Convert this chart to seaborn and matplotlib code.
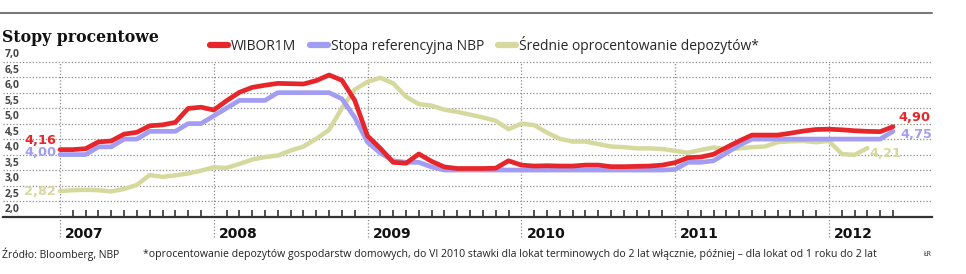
import numpy as np
import pandas as pd
import matplotlib.pyplot as plt
import seaborn as sns

# monthly data, Jan 2007 .. Jun 2012
wibor = [4.16, 4.16, 4.19, 4.41, 4.44, 4.66, 4.72, 4.93, 4.96, 5.04, 5.49, 5.53,
         5.44, 5.74, 6.01, 6.17, 6.24, 6.30, 6.29, 6.28, 6.39, 6.57, 6.40, 5.75,
         4.60, 4.20, 3.75, 3.72, 4.02, 3.78, 3.60, 3.55, 3.55, 3.55, 3.56, 3.80,
         3.66, 3.63, 3.64, 3.63, 3.63, 3.66, 3.66, 3.61, 3.61, 3.62, 3.63, 3.66,
         3.74, 3.90, 3.92, 4.01, 4.23, 4.44, 4.63, 4.63, 4.63, 4.69, 4.76, 4.81,
         4.82, 4.80, 4.77, 4.75, 4.74, 4.90]
nbp = [4.00, 4.00, 4.00, 4.25, 4.25, 4.50, 4.50, 4.75, 4.75, 4.75, 5.00, 5.00,
       5.25, 5.50, 5.75, 5.75, 5.75, 6.00, 6.00, 6.00, 6.00, 6.00, 5.80, 5.20,
       4.40, 4.05, 3.80, 3.75, 3.75, 3.60, 3.50, 3.50, 3.50, 3.50, 3.50, 3.50,
       3.50, 3.50, 3.50, 3.50, 3.50, 3.50, 3.50, 3.50, 3.50, 3.50, 3.50, 3.50,
       3.52, 3.75, 3.75, 3.80, 4.05, 4.30, 4.50, 4.50, 4.50, 4.50, 4.50, 4.50,
       4.50, 4.50, 4.50, 4.50, 4.50, 4.75]
deposits = [2.82, 2.85, 2.86, 2.85, 2.81, 2.89, 3.02, 3.34, 3.28, 3.33, 3.39, 3.48,
            3.59, 3.57, 3.70, 3.84, 3.92, 3.97, 4.13, 4.26, 4.51, 4.80, 5.50, 6.10,
            6.35, 6.48, 6.30, 5.87, 5.63, 5.58, 5.45, 5.38, 5.29, 5.20, 5.09, 4.82,
            5.00, 4.95, 4.71, 4.51, 4.42, 4.42, 4.34, 4.26, 4.24, 4.20, 4.20, 4.18,
            4.12, 4.06, 4.15, 4.23, 4.17, 4.20, 4.24, 4.26, 4.40, 4.43, 4.44, 4.40,
            4.44, 4.02, 3.99, 4.21]
years = ['2007', '2008', '2009', '2010', '2011', '2012']
yticks = [2.0, 2.5, 3.0, 3.5, 4.0, 4.5, 5.0, 5.5, 6.0, 6.5, 7.0]

RED = '#e6262b'
BLUE = '#a29df3'
GREEN = '#d6d99e'
GRID = '#8a8a8a'

sns.set_style('white')
plt.rcParams['font.family'] = ['Open Sans', 'DejaVu Sans']

W, H = 966, 274
fig = plt.figure(figsize=(W / 100, H / 100), dpi=100)


def fx(x):
    return x / W


def fy(y):
    return 1 - y / H


# axes: left edge 3px, right 932px, y=2.0 at 216.5px, 1.0 = 31px
ax = fig.add_axes([fx(3), fy(216.5), fx(929), (216.5 - 58.6) / H])
m = np.arange(len(wibor))

sns.lineplot(x=m[:len(deposits)], y=deposits, ax=ax, color=GREEN, lw=3.2,
             label='Średnie oprocentowanie depozytów*', zorder=3)
sns.lineplot(x=m, y=nbp, ax=ax, color=BLUE, lw=3.4,
             label='Stopa referencyjna NBP', zorder=4)
sns.lineplot(x=m, y=wibor, ax=ax, color=RED, lw=3.4, label='WIBOR1M', zorder=5)

ax.set_xlim(-57 / 12.815, 872 / 12.815)
ax.set_ylim(2.0, 7.1)
ax.set_xlabel('')
ax.set_ylabel('')
for s in ['top', 'right', 'left']:
    ax.spines[s].set_visible(False)
ax.spines['bottom'].set_color('#333333')
ax.spines['bottom'].set_linewidth(1.6)

# horizontal dotted grid + labels sitting on the lines
for v in yticks[1:]:
    ax.axhline(v, color=GRID, lw=0.9, ls=(0, (1, 1.6)), zorder=1)
for v in yticks:
    ax.text(0.002, v + 0.04, f'{v:.1f}'.replace('.', ','), transform=ax.get_yaxis_transform(),
            fontsize=7.5, fontweight='bold', color='#444444', ha='left', va='bottom')
ax.set_yticks([])

# monthly ticks, year lines
month_ticks = [t for t in m if t % 12 != 0]
ax.set_xticks(month_ticks)
ax.set_xticklabels([])
ax.tick_params(axis='x', direction='in', length=5, width=1.2, color='#333333', bottom=True)
for i, yr in enumerate(years):
    xpos = i * 12
    ax.axvline(xpos, ymin=-0.13, ymax=0.98, color=GRID, lw=0.9, ls=(0, (1, 1.6)),
               clip_on=False, zorder=1)
    ax.text(xpos + 0.4, -0.065, yr, transform=ax.get_xaxis_transform(), fontsize=10,
            fontweight='bold', family='DejaVu Sans', color='#111111', ha='left', va='top')

# end value labels
lab = dict(fontsize=9.3, fontweight='bold', family='DejaVu Sans')
ax.text(-2.8, wibor[0] + 0.28, '4,16', color=RED, ha='left', va='center', **lab)
ax.text(-2.8, nbp[0] + 0.07, '4,00', color=BLUE, ha='left', va='center', **lab)
ax.text(-2.8, deposits[0], '2,82', color=GREEN, ha='left', va='center', **lab)
ax.text(m[-1] + 0.4, wibor[-1] + 0.31, '4,90', color=RED, ha='left', va='center', **lab)
ax.text(m[-1] + 0.6, nbp[-1] - 0.09, '4,75', color=BLUE, ha='left', va='center', **lab)
ax.text(len(deposits) - 1 + 0.2, deposits[-1] - 0.19, '4,21', color=GREEN, ha='left',
        va='center', **lab)

# legend
handles, labels = ax.get_legend_handles_labels()
order = [2, 1, 0]
leg = ax.legend([handles[i] for i in order], [labels[i] for i in order], ncol=3,
                loc='center left', bbox_to_anchor=(fx(210), fy(45)),
                bbox_transform=fig.transFigure, frameon=False, fontsize=10,
                handlelength=1.3, handletextpad=0.2, columnspacing=1.0,
                borderpad=0, borderaxespad=0)
for ln in leg.get_lines():
    ln.set_linewidth(4.5)

# title, top rule, footer
fig.add_artist(plt.Line2D([fx(0), fx(932)], [fy(13), fy(13)], color='#7a7a7a', lw=1.5))
fig.text(fx(2), fy(37), 'Stopy procentowe', family='DejaVu Serif', fontweight='bold',
         fontsize=11.3, color='#111111', ha='left', va='center')
fig.text(fx(2), fy(254), 'Źródło: Bloomberg, NBP', fontsize=7.5, color='#222222',
         ha='left', va='center')
fig.text(fx(143), fy(254), '*oprocentowanie depozytów gospodarstw domowych, do VI 2010 stawki '
         'dla lokat terminowych do 2 lat włącznie, później – dla lokat od 1 roku do 2 lat',
         fontsize=7.55, color='#222222', ha='left', va='center')
fig.text(fx(932), fy(255), 'ŁR', fontsize=5, color='#222222', ha='right', va='center')

fig.savefig('out.png', dpi=100)
